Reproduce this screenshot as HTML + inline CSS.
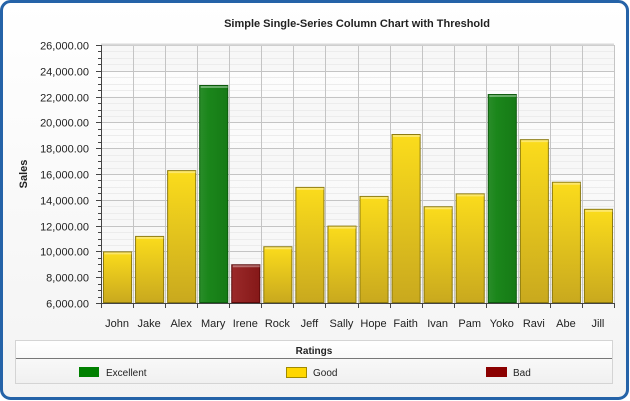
<!DOCTYPE html><html><head><style>body{margin:0;background:#fff}svg{display:block;font-family:"Liberation Sans",Verdana,sans-serif}</style></head><body>
<svg width="630" height="401" viewBox="0 0 630 401">
<defs>
<linearGradient id="bg" x1="0" y1="0" x2="0" y2="1"><stop offset="0" stop-color="#ffffff"/><stop offset="1" stop-color="#f3f3f3"/></linearGradient>
<linearGradient id="y" x1="0" y1="0" x2="0" y2="1"><stop offset="0" stop-color="#fbdc1c"/><stop offset="1" stop-color="#c9a91e"/></linearGradient>
<linearGradient id="g" x1="0" y1="0" x2="1" y2="0"><stop offset="0" stop-color="#2a8d2a"/><stop offset="0.3" stop-color="#1b861b"/><stop offset="1" stop-color="#167a16"/></linearGradient>
<linearGradient id="r" x1="0" y1="0" x2="1" y2="0"><stop offset="0" stop-color="#9b2a2a"/><stop offset="1" stop-color="#851818"/></linearGradient>
<linearGradient id="lg" x1="0" y1="0" x2="0" y2="1"><stop offset="0" stop-color="#ffffff"/><stop offset="1" stop-color="#f0f0f0"/></linearGradient>
</defs>
<rect x="1.5" y="1.5" width="626" height="397" rx="9" fill="url(#bg)" stroke="#2563a8" stroke-width="3"/>
<text x="357" y="27" text-anchor="middle" font-size="11" font-weight="bold" fill="#222">Simple Single-Series Column Chart with Threshold</text>
<g id="plot"></g>
<text transform="translate(27,174) rotate(-90)" text-anchor="middle" font-size="11" font-weight="bold" fill="#222">Sales</text>
<rect x="15.5" y="340.5" width="597" height="43" fill="url(#lg)" stroke="#d4d4d4"/>
<line x1="16" y1="358.5" x2="612" y2="358.5" stroke="#777"/>
<text x="314" y="354" text-anchor="middle" font-size="10" font-weight="bold" fill="#222">Ratings</text>
<rect x="79" y="367" width="20" height="10" fill="#008000"/>
<text x="106" y="376" font-size="10" fill="#222">Excellent</text>
<rect x="286.5" y="367.5" width="20" height="10" fill="#ffd700" stroke="#a08a00"/>
<text x="313" y="376" font-size="10" fill="#222">Good</text>
<rect x="486" y="367" width="21" height="10" fill="#8b0000"/>
<text x="513" y="376" font-size="10" fill="#222">Bad</text>
</svg>
<script>
var p=document.getElementById('plot'),s='';
var L=101,R=614,T=45,B=303;
function Y(v){return B-(v-6000)*(B-T)/20000;}
for(var i=0;i<10;i++){if(i%2==0)s+='<rect x="'+L+'" y="'+Y(26000-i*2000)+'" width="'+(R-L)+'" height="'+(12.9*2)+'" fill="#f7f7f7"/>';}
for(var v=6000;v<=26000;v+=500){var y=Math.round(Y(v))+.5;var maj=v%2000==0;
s+='<line x1="'+L+'" y1="'+y+'" x2="'+R+'" y2="'+y+'" stroke="'+(maj?'#c4c4c4':'#ececec')+'"/>';
s+='<line x1="'+(maj?96:98)+'" y1="'+y+'" x2="'+L+'" y2="'+y+'" stroke="#444"/>';
if(maj)s+='<text x="89" y="'+(y+4)+'" text-anchor="end" font-size="11" fill="#222">'+(v/1000).toFixed(0).replace(/(\d+)/,function(m){return m})+',000.00</text>';}
var n=['John','Jake','Alex','Mary','Irene','Rock','Jeff','Sally','Hope','Faith','Ivan','Pam','Yoko','Ravi','Abe','Jill'];
var d=[10000,11200,16300,22900,9000,10400,15000,12000,14300,19100,13500,14500,22200,18700,15400,13300];
var w=(R-L)/16;
for(var i=0;i<=16;i++){var x=Math.round(L+i*w)+.5;s+='<line x1="'+x+'" y1="'+T+'" x2="'+x+'" y2="'+B+'" stroke="#c4c4c4"/>';s+='<line x1="'+x+'" y1="'+B+'" x2="'+x+'" y2="'+(B+5)+'" stroke="#444"/>';}
s+='<line x1="'+L+'" y1="'+(T-.5)+'" x2="'+R+'" y2="'+(T-.5)+'" stroke="#d8d8d8" stroke-width="2"/>';
for(var i=0;i<16;i++){var v=d[i],x=L+i*w+2,yy=Y(v),f,st;
if(v>20000){f='url(#g)';st='#0d5a0d';}else if(v<10000){f='url(#r)';st='#5a0a0a';}else{f='url(#y)';st='#8c7a10';}
s+='<rect x="'+(x+.5)+'" y="'+(yy+.5)+'" width="'+(w-4)+'" height="'+(B-yy-1)+'" fill="'+f+'" stroke="'+st+'"/>';
s+='<line x1="'+(x+1.5)+'" y1="'+(yy+2)+'" x2="'+(x+w-3.5)+'" y2="'+(yy+2)+'" stroke="rgba(255,255,255,0.35)" stroke-width="2"/>';
s+='<text x="'+(L+(i+.5)*w)+'" y="'+(B+24)+'" text-anchor="middle" font-size="11" fill="#222">'+n[i]+'</text>';}
s+='<line x1="'+L+'.5" y1="'+T+'" x2="'+L+'.5" y2="'+B+'" stroke="#444"/>';
s+='<line x1="'+L+'" y1="'+(B+.5)+'" x2="'+R+'" y2="'+(B+.5)+'" stroke="#444"/>';
p.innerHTML=s;
</script>
</body></html>
